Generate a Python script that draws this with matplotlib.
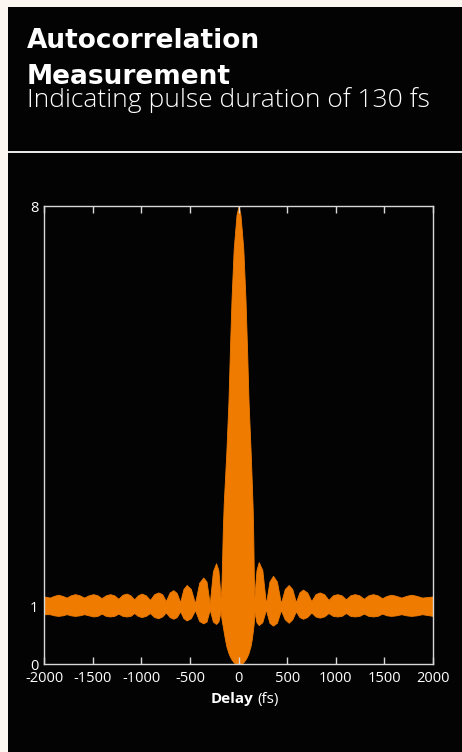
import matplotlib
matplotlib.use("Agg")
import matplotlib.pyplot as plt
from matplotlib.patches import Rectangle
from matplotlib.lines import Line2D

# envelope of the fringe-resolved autocorrelation
delay = [-2000, -1940, -1897, -1853, -1810, -1767, -1724, -1681, -1634, -1587,
         -1540, -1493, -1450, -1407, -1364, -1321, -1278, -1235, -1192, -1150,
         -1111, -1073, -1034, -996, -953, -910, -867, -824, -785, -747,
         -708, -670, -635, -600, -566, -533, -490, -447, -404, -362,
         -329, -296, -263, -231, -207, -183, -176, -170, -162, -152,
         -140, -125, -103, -88, -72, -50, -35, -20, 0, 20,
         35, 50, 72, 88, 103, 125, 138, 146, 152, 157,
         162, 185, 208, 245, 282, 318, 355, 395, 436, 476,
         516, 553, 590, 626, 663, 706, 749, 792, 835, 880,
         926, 971, 1016, 1060, 1105, 1150, 1195, 1242, 1289, 1336,
         1383, 1430, 1477, 1524, 1571, 1622, 1674, 1725, 1777, 1832,
         1888, 2000]
upper = [1.18, 1.16, 1.19, 1.21, 1.19, 1.16, 1.20, 1.22, 1.20, 1.16,
         1.20, 1.22, 1.20, 1.15, 1.20, 1.22, 1.20, 1.14, 1.21, 1.23,
         1.20, 1.13, 1.20, 1.23, 1.20, 1.12, 1.22, 1.25, 1.22, 1.10,
         1.25, 1.29, 1.24, 1.08, 1.31, 1.38, 1.31, 1.06, 1.42, 1.51,
         1.44, 1.05, 1.62, 1.76, 1.64, 1.15, 1.35, 1.70, 2.30, 2.80,
         3.20, 3.70, 4.60, 5.50, 6.36, 7.23, 7.55, 7.85, 8.00, 7.85,
         7.55, 7.23, 6.36, 5.50, 4.60, 3.70, 3.10, 2.70, 2.20, 1.60,
         1.15, 1.64, 1.78, 1.64, 1.05, 1.44, 1.54, 1.44, 1.06, 1.31,
         1.38, 1.31, 1.08, 1.25, 1.30, 1.25, 1.10, 1.22, 1.25, 1.22,
         1.12, 1.20, 1.22, 1.20, 1.13, 1.20, 1.22, 1.20, 1.14, 1.20,
         1.22, 1.20, 1.15, 1.19, 1.21, 1.19, 1.16, 1.19, 1.21, 1.19,
         1.16, 1.18]
lower = [0.87, 0.87, 0.85, 0.84, 0.85, 0.87, 0.85, 0.84, 0.85, 0.87,
         0.85, 0.83, 0.84, 0.88, 0.84, 0.83, 0.84, 0.88, 0.84, 0.83,
         0.84, 0.89, 0.84, 0.82, 0.84, 0.89, 0.82, 0.80, 0.83, 0.90,
         0.82, 0.79, 0.82, 0.92, 0.80, 0.76, 0.80, 0.94, 0.75, 0.71,
         0.74, 0.95, 0.74, 0.70, 0.74, 0.92, 0.80, 0.74, 0.66, 0.56,
         0.44, 0.31, 0.19, 0.13, 0.08, 0.03, 0.01, 0.00, 0.00, 0.00,
         0.01, 0.03, 0.08, 0.13, 0.19, 0.32, 0.45, 0.56, 0.64, 0.72,
         0.92, 0.73, 0.68, 0.73, 0.95, 0.72, 0.67, 0.72, 0.94, 0.78,
         0.72, 0.78, 0.92, 0.82, 0.79, 0.82, 0.90, 0.83, 0.81, 0.83,
         0.89, 0.84, 0.83, 0.84, 0.89, 0.84, 0.83, 0.84, 0.88, 0.84,
         0.83, 0.84, 0.88, 0.85, 0.84, 0.85, 0.87, 0.85, 0.84, 0.85,
         0.87, 0.84]

x_ticks = [-2000, -1500, -1000, -500, 0, 500, 1000, 1500, 2000]
y_ticks = [0, 1, 8]

orange = "#ef7b00"
plt.rcParams["font.family"] = ["Open Sans", "DejaVu Sans"]

W, H = 462, 752
fig = plt.figure(figsize=(W / 100, H / 100), dpi=100)
fig.patch.set_facecolor("#fcf7f1")

# black card
fig.add_artist(Rectangle((8 / W, 0), 1, 1 - 7 / H, transform=fig.transFigure,
                         facecolor="#030303", edgecolor="none", zorder=0))
fig.add_artist(Line2D([8 / W, 1], [1 - 151.5 / H] * 2, transform=fig.transFigure,
                      color="white", lw=1.3))

fig.text(27 / W, 1 - 48 / H, "Autocorrelation", color="white", fontsize=19,
         fontweight="bold", family="DejaVu Sans", va="baseline")
fig.text(27 / W, 1 - 84 / H, "Measurement", color="white", fontsize=19,
         fontweight="bold", family="DejaVu Sans", va="baseline")
fig.text(27 / W, 1 - 107 / H, "Indicating pulse duration of 130 fs", color="white",
         fontsize=19, fontweight="light", va="baseline")

ax = fig.add_axes([44 / W, 1 - 664 / H, (433 - 44) / W, (664 - 206) / H])
ax.set_facecolor("#030303")
ax.fill_between(delay, lower, upper, color=orange, lw=0.6, edgecolor=orange)

ax.set_xlim(-2000, 2000)
ax.set_ylim(0, 8)
ax.set_xticks(x_ticks)
ax.set_xticklabels([str(t) for t in x_ticks])
ax.set_yticks(y_ticks)
ax.set_yticklabels([str(t) for t in y_ticks])
ax.tick_params(axis="x", direction="in", length=5, width=1, color="#d8d8d8",
               top=True, labelcolor="white", labelsize=10.5, pad=5)
ax.tick_params(axis="y", length=0, labelcolor="white", labelsize=10.5, pad=4)
for s in ax.spines.values():
    s.set_color("#d8d8d8")
    s.set_linewidth(1)

fig.text(253 / W, 1 - 703 / H, "Delay", color="white", fontsize=11,
         fontweight="bold", ha="right", va="baseline")
fig.text(257 / W, 1 - 703 / H, "(fs)", color="white", fontsize=11,
         ha="left", va="baseline")

fig.savefig("out.png", dpi=100, facecolor=fig.get_facecolor())
